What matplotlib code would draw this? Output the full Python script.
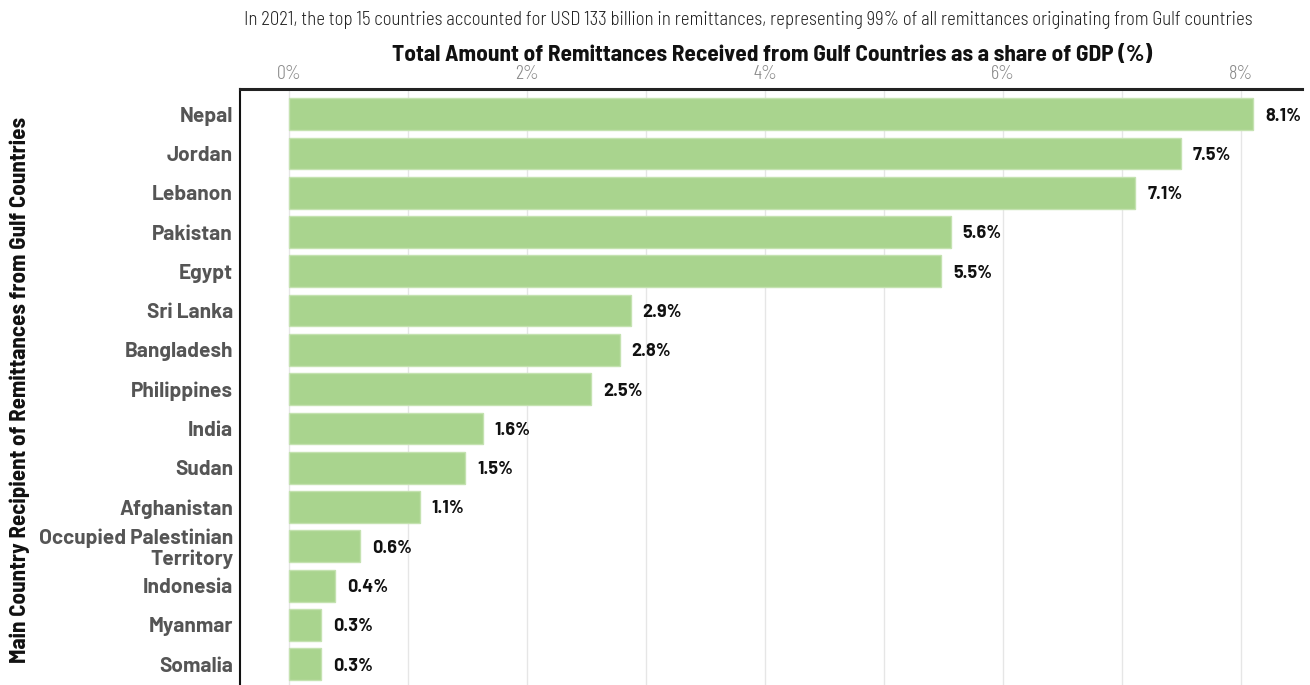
import matplotlib
matplotlib.use("Agg")
import matplotlib.pyplot as plt
from matplotlib.ticker import MultipleLocator, FuncFormatter
import numpy as np

countries = ["Nepal", "Jordan", "Lebanon", "Pakistan", "Egypt", "Sri Lanka",
             "Bangladesh", "Philippines", "India", "Sudan", "Afghanistan",
             "Occupied Palestinian\nTerritory", "Indonesia", "Myanmar", "Somalia"]
share_gdp = [8.1, 7.49, 7.11, 5.56, 5.48, 2.87, 2.78, 2.54, 1.63, 1.48,
             1.10, 0.60, 0.39, 0.27, 0.27]

subtitle = ("In 2021, the top 15 countries accounted for USD 133 billion in remittances, "
            "representing 99% of all remittances originating from Gulf countries")
title = "Total Amount of Remittances Received from Gulf Countries as a share of GDP (%)"
ylabel = "Main Country Recipient of Remittances from Gulf Countries"

BODY = ["Barlow", "DejaVu Sans"]
NARROW = ["Barlow Semi Condensed", "DejaVu Sans"]
plt.rcParams["font.family"] = BODY

fig = plt.figure(figsize=(13.10, 6.85), dpi=100)
ax = fig.add_axes([240 / 1310, 0, (1302 - 240) / 1310, (685 - 89) / 685])

y = np.arange(len(countries))
ax.barh(y, share_gdp, height=0.81, color="#a9d48e", edgecolor="#c4e2b0",
        linewidth=1, zorder=2)

for yi, v in zip(y, share_gdp):
    ax.text(v + 0.1, yi + 0.05, f"{v:.1f}%", va="center", ha="left",
            fontsize=13, fontweight="bold", color="#111111", family=BODY)

ax.set_xlim(-0.41, 8.51)
ax.set_ylim(len(countries) - 1 + 0.53, -0.64)
ax.set_yticks(y)
ax.set_yticklabels(countries, fontsize=15, fontweight="bold", color="#555555",
                   linespacing=1.1, family=BODY)

ax.xaxis.set_major_locator(MultipleLocator(2))
ax.xaxis.set_minor_locator(MultipleLocator(1))
ax.xaxis.set_major_formatter(FuncFormatter(lambda v, p: f"{v:.0f}%"))
ax.xaxis.tick_top()
ax.tick_params(axis="x", which="both", length=0, labelsize=14.5,
               labelcolor="#8a8a8a", pad=4)
for lbl in ax.get_xticklabels():
    lbl.set_family(["Barlow Condensed", "DejaVu Sans"])
    lbl.set_fontweight(300)
ax.tick_params(axis="y", length=0, pad=5)
ax.grid(axis="x", which="both", color="#e6e6e6", linewidth=1, zorder=0)

for s in ("right", "bottom"):
    ax.spines[s].set_visible(False)
ax.spines["top"].set_linewidth(2.2)
ax.spines["top"].set_color("#222222")
ax.spines["left"].set_linewidth(1.5)
ax.spines["left"].set_color("#111111")

fig.text(748 / 1310, 1 - 20 / 685, subtitle, ha="center", va="center",
         fontsize=13.5, fontweight=300, color="#222222", family=NARROW)
fig.text(772 / 1310, 1 - 55 / 685, title, ha="center", va="center",
         fontsize=16.8, fontweight="bold", color="#111111", family=NARROW)
fig.text(20 / 1310, 1 - 390 / 685, ylabel, ha="center", va="center",
         rotation=90, fontsize=16.6, fontweight="bold", color="#111111",
         family=NARROW)

fig.savefig("out.png", dpi=100)
